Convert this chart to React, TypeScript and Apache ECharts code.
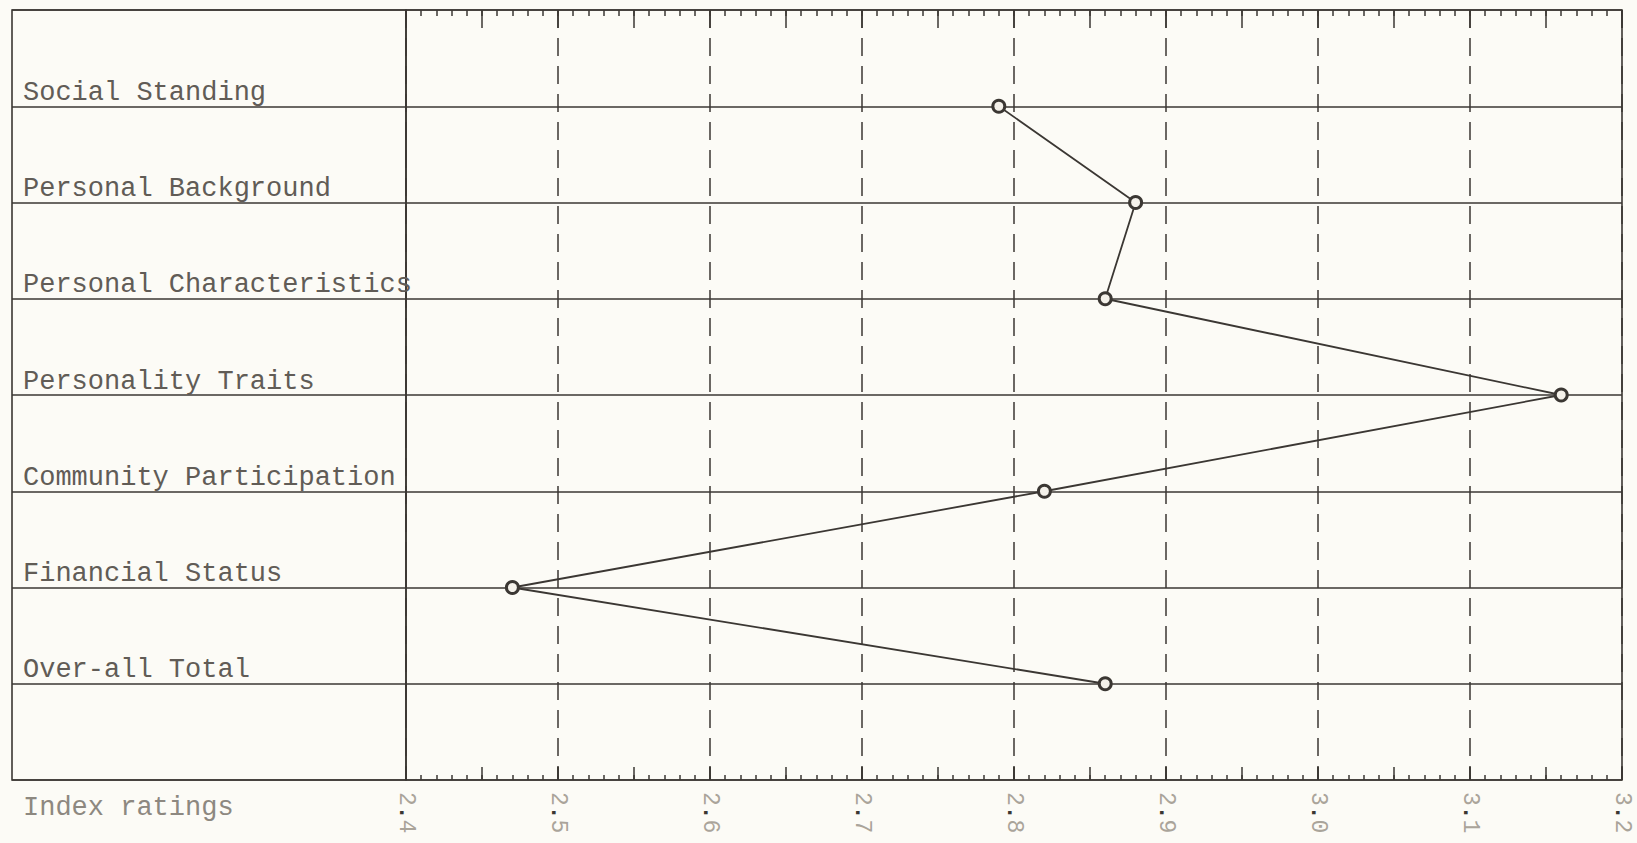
import React, { useEffect, useRef } from "react";
import * as echarts from "echarts";

const categories = [
  "Social Standing",
  "Personal Background",
  "Personal Characteristics",
  "Personality Traits",
  "Community Participation",
  "Financial Status",
  "Over-all Total",
];
const indexRatings = [2.79, 2.88, 2.86, 3.16, 2.82, 2.47, 2.86];
const xMin = 2.4;
const xMax = 3.2;
const axisTitle = "Index ratings";

const FONT = "'Courier New', 'Liberation Mono', monospace";
const INK = "#3b3733";

export default function App() {
  const ref = useRef<HTMLDivElement>(null);
  useEffect(() => {
    document.body.style.margin = "0";
    document.body.style.background = "#fcfbf6";
    const chart = echarts.init(ref.current!, null, { renderer: "svg" });
    const yCats = ["", ...categories, ""];
    const hiddenX = {
      type: "value",
      gridIndex: 1,
      min: xMin,
      max: xMax,
      axisLine: { show: false },
      axisLabel: { show: false },
      splitLine: { show: false },
    };
    chart.setOption({
      animation: false,
      backgroundColor: "#fcfbf6",
      title: {
        text: axisTitle,
        left: 23,
        top: 794,
        padding: 0,
        textStyle: { fontFamily: FONT, fontSize: 27, fontWeight: "normal", color: "#8d8880" },
      },
      grid: [
        { left: 12, top: 10, width: 394, bottom: 63, show: true, borderColor: INK, borderWidth: 1.6, backgroundColor: "transparent" },
        { left: 406, right: 15, top: 10, bottom: 63, show: true, borderColor: INK, borderWidth: 1.6, backgroundColor: "transparent" },
      ],
      xAxis: [
        {
          type: "value",
          gridIndex: 1,
          position: "bottom",
          min: xMin,
          max: xMax,
          interval: 0.1,
          axisLine: { show: false },
          axisTick: { show: true, inside: true, length: 13, lineStyle: { color: INK, width: 1.5 } },
          axisLabel: {
            show: true,
            rotate: -90,
            margin: 12,
            formatter: (v: number) => {
              const [a, b] = v.toFixed(1).split(".");
              return `{d|${a}}{p|.}{d|${b}}`;
            },
            rich: {
              d: { fontFamily: FONT, fontSize: 23, color: "#aaa49a" },
              p: { fontFamily: FONT, fontSize: 23, color: "#3b3733", fontWeight: "bold" },
            },
            fontFamily: FONT,
            fontSize: 23,
            color: "#aaa49a",
          },
          splitLine: { show: true, lineStyle: { color: INK, width: 1.5, type: [18, 10] } },
        },
        { ...hiddenX, position: "bottom", interval: 0.05, axisTick: { show: true, inside: true, length: 13, lineStyle: { color: INK, width: 1.5 } } },
        { ...hiddenX, position: "bottom", interval: 0.01, axisTick: { show: true, inside: true, length: 5, lineStyle: { color: INK, width: 1.5 } } },
        { ...hiddenX, position: "top", interval: 0.05, axisTick: { show: true, inside: true, length: 18, lineStyle: { color: INK, width: 1.5 } } },
        { ...hiddenX, position: "top", interval: 0.01, axisTick: { show: true, inside: true, length: 6, lineStyle: { color: INK, width: 1.5 } } },
        { type: "value", gridIndex: 0, show: false, min: 0, max: 1 },
      ],
      yAxis: [
        {
          type: "category",
          gridIndex: 0,
          data: yCats,
          inverse: true,
          boundaryGap: false,
          axisLine: { show: false },
          axisTick: { show: false },
          splitLine: { show: true, lineStyle: { color: INK, width: 1.6 } },
          axisLabel: {
            show: true,
            inside: true,
            margin: 11,
            align: "left",
            verticalAlign: "bottom",
            interval: 0,
            fontFamily: FONT,
            fontSize: 27,
            color: "#615c56",
          },
        },
        {
          type: "category",
          gridIndex: 1,
          data: yCats,
          inverse: true,
          boundaryGap: false,
          axisLine: { show: false },
          axisTick: { show: false },
          axisLabel: { show: false },
          splitLine: { show: true, lineStyle: { color: INK, width: 1.6 } },
        },
      ],
      series: [
        {
          type: "line",
          xAxisIndex: 0,
          yAxisIndex: 1,
          data: indexRatings.map((v, i) => [v, categories[i]]),
          lineStyle: { color: INK, width: 1.8 },
          symbol: "circle",
          symbolSize: 12,
          itemStyle: { color: "#f4f1ea", borderColor: INK, borderWidth: 3 },
          z: 5,
        },
      ],
    });
    return () => chart.dispose();
  }, []);
  return <div ref={ref} style={{ width: 1637, height: 843, background: "#fcfbf6" }} />;
}
